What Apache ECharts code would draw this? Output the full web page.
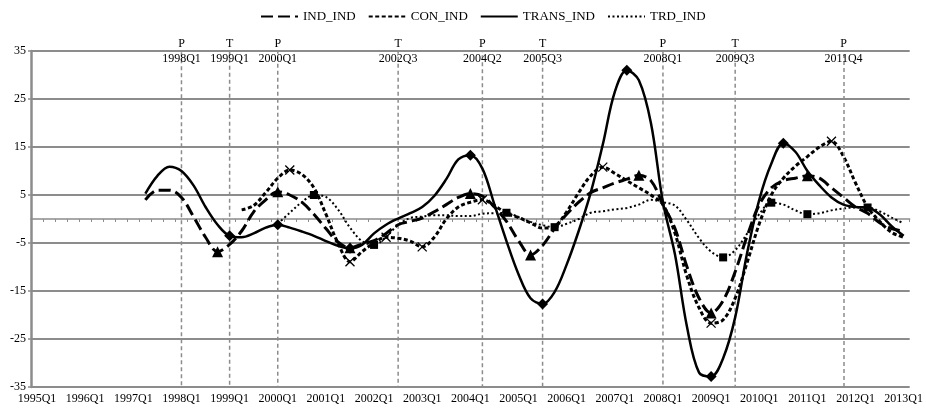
<!DOCTYPE html>
<html><head><meta charset="utf-8">
<script src="https://cdn.jsdelivr.net/npm/echarts@6/dist/echarts.min.js"></script>
<style>html,body{margin:0;padding:0;background:#fff}#c{width:926px;height:409px}</style>
</head><body><div id="c"></div>
<script>
// ---- categories (quarters 1995Q1 .. 2013Q1) ----
const firstYear = 1995, lastYear = 2013;
const categories = [];
for (let y = firstYear; y <= lastYear; y++) {
  for (let q = 1; q <= 4; q++) {
    if (y === lastYear && q > 1) break;
    categories.push(y + 'Q' + q);
  }
}

// ---- series values (null = no data) ----
const IND_IND = [null,null,null,null,null,null,null,null,null,
  4,6,6,4.5,0.5,-3.8,-6.8,-5.3,-2.5,1.5,4,5.7,5,3.5,1,-2,-4.8,-6,
  -5.2,-4.5,-3,-1.2,-0.5,0.2,1.5,3,4.5,5.3,
  4.8,2.5,-0.5,-4.5,-7.5,-5.5,-2,1,3.5,5.5,6.5,7.5,8.3,9.1,8,3,
  -2,-10,-16.5,-19.6,-17,-11,-3.5,3,6.5,8,8.5,9,8.5,6.5,4.5,2.5,1.2,-0.8,-2,-2.5];

const CON_IND = [null,null,null,null,null,null,null,null,null,null,null,null,null,null,null,null,null,
  1.9,2.8,5.5,8.5,10.2,9.3,6.5,1,-5,-8.9,
  -6.8,-5,-3.8,-4,-4.6,-5.8,-3.8,0,2.5,3.5,
  4,2.8,1.2,0.3,-0.8,-1.9,-1.5,1.5,5.5,9,10.8,9.5,8,6.5,5,3,
  -3,-12,-18.5,-21.7,-21,-16.5,-9,-1,5,8.5,11,13,15,16.2,13,7.5,2.5,-0.5,-2.8,-3.8];

const TRANS_IND = [null,null,null,null,null,null,null,null,null,
  5.3,9,10.9,10,7,2.5,-1.2,-3.5,-3.8,-3,-1.8,-1.2,-1.8,-2.6,-3.5,-4.6,-5.6,-6.1,
  -5.4,-3,-1.2,0.1,1.2,2.5,4.8,8.3,12.4,13.3,
  10.5,3,-4.6,-11.5,-16.5,-17.7,-15.2,-9.5,-2.5,5.5,15.5,26.5,31,28.9,20,3.5,
  -7.4,-22.5,-32,-32.8,-29,-20.5,-7,4,11.5,15.8,14,10,7,4.5,3,2.5,2.4,1,-1.5,-3.5];

const TRD_IND = [null,null,null,null,null,null,null,null,null,null,null,null,null,null,null,null,null,null,null,null,
  -1,1.3,3.5,5,4.6,2,-1.8,
  -4.6,-5.4,-3.7,-1.2,0.2,0.5,0.8,0.8,0.6,0.6,
  1.1,1.2,1.3,0.4,-0.6,-1.3,-1.7,-1,0,1.3,1.6,2,2.3,3,4,3.5,
  2.8,-0.3,-4,-6.8,-8,-6.5,-3,1,3.4,3,1.8,1,1.2,1.8,2.2,2.4,2.4,1.6,0.3,-0.9];

// ---- turning-point markers (data indices) ----
const IND_marks = [15,20,26,36,41,50,56,64];
const CON_marks = [21,26,29,32,37,47,56,66];
const TRANS_marks = [16,20,26,36,42,49,56,62];
const TRD_marks = [23,28,39,43,57,61,64,69];

// ---- reference cycle dates ----
const cycleDates = ['1998Q1','1999Q1','2000Q1','2002Q3','2004Q2','2005Q3','2008Q1','2009Q3','2011Q4'];
const cycleTypes = ['P','T','P','T','P','T','P','T','P'];

// ---- y axis ticks ----
const yMin = -35, yMax = 35, yStep = 10;

const FONT = 'Liberation Serif';
const GRID_C = '#8c8c8c';

const boxes = [], singles = [];
for (let i = 0; i < cycleDates.length; i += 2) {
  if (i + 1 < cycleDates.length) {
    boxes.push([{ xAxis: cycleDates[i], yAxis: yMax }, { xAxis: cycleDates[i + 1], yAxis: yMin }]);
  } else {
    singles.push([{ coord: [cycleDates[i], yMin] }, { coord: [cycleDates[i], yMax] }]);
  }
}
const cycleLabels = cycleDates.map((d, i) => ({ coord: [d, yMax], name: cycleTypes[i], value: d }));

function sizeFn(list, s) {
  return function (v, p) { return list.indexOf(p.dataIndex) >= 0 ? s : 0; };
}

const chart = echarts.init(document.getElementById('c'), null, { renderer: 'canvas' });
chart.setOption({
  animation: false,
  backgroundColor: '#fff',
  textStyle: { fontFamily: FONT },
  legend: {
    top: 5, left: 255,
    itemWidth: 37, itemHeight: 14, itemGap: 12,
    itemStyle: { opacity: 0 },
    textStyle: { fontFamily: FONT, fontSize: 13, color: '#000' },
    data: ['IND_IND', 'CON_IND', 'TRANS_IND', 'TRD_IND']
  },
  grid: { left: 31, right: 12, top: 51, bottom: 22, containLabel: false },
  xAxis: [{
    type: 'category', data: categories, boundaryGap: true, position: 'bottom',
    axisLine: { show: false, onZero: false },
    axisTick: { show: false },
    axisLabel: { interval: 3, fontFamily: FONT, fontSize: 12, color: '#000', margin: 6 },
    splitLine: { show: false }
  }, {
    type: 'category', data: categories, boundaryGap: true, position: 'bottom',
    axisLine: { show: true, onZero: true, lineStyle: { color: GRID_C, width: 1.5 } },
    axisTick: { show: true, interval: 0, length: 3, lineStyle: { color: GRID_C, width: 1 } },
    axisLabel: { show: false },
    splitLine: { show: false }
  }],
  yAxis: {
    type: 'value', min: yMin, max: yMax, interval: yStep,
    axisLine: { show: true, lineStyle: { color: GRID_C, width: 2.5 } },
    axisTick: { show: true, length: 3, lineStyle: { color: GRID_C, width: 1.5 } },
    axisLabel: { fontFamily: FONT, fontSize: 12, color: '#000', margin: 5 },
    splitLine: { show: true, lineStyle: { color: GRID_C, width: 2 } }
  },
  series: [{
    name: 'IND_IND', type: 'line', data: IND_IND, smooth: 0.35,
    symbol: 'triangle', symbolSize: sizeFn(IND_marks, 11), showSymbol: true, showAllSymbol: true,
    itemStyle: { color: '#000' },
    lineStyle: { color: '#000', width: 3, type: [12, 5] },
    z: 5,
    markArea: {
      silent: true,
      itemStyle: { color: 'rgba(0,0,0,0)', borderColor: GRID_C, borderWidth: 1.5, borderType: [4, 3] },
      label: { show: false },
      data: boxes
    },
    markLine: {
      silent: true, symbol: ['none', 'none'],
      lineStyle: { color: GRID_C, width: 1.5, type: [4, 3] },
      label: { show: false },
      data: singles
    },
    markPoint: {
      silent: true, symbol: 'rect', symbolSize: 1,
      itemStyle: { color: 'rgba(0,0,0,0)' },
      label: {
        show: true, position: 'inside', color: '#000',
        formatter: p => '{t|' + p.name + '}\n{d|' + p.value + '}',
        rich: {
          t: { fontFamily: FONT, fontSize: 12, lineHeight: 15, color: '#000' },
          d: { fontFamily: FONT, fontSize: 12, lineHeight: 15, color: '#000' }
        }
      },
      data: cycleLabels
    }
  }, {
    name: 'CON_IND', type: 'line', data: CON_IND, smooth: 0.35,
    symbol: 'path://M0,0L10,10M10,0L0,10', symbolSize: sizeFn(CON_marks, 9), showSymbol: true, showAllSymbol: true,
    itemStyle: { color: 'rgba(0,0,0,0)', borderColor: '#000', borderWidth: 1.3 },
    lineStyle: { color: '#000', width: 3, type: [4, 2.5] },
    z: 4
  }, {
    name: 'TRANS_IND', type: 'line', data: TRANS_IND, smooth: 0.35,
    symbol: 'diamond', symbolSize: sizeFn(TRANS_marks, 11), showSymbol: true, showAllSymbol: true,
    itemStyle: { color: '#000' },
    lineStyle: { color: '#000', width: 2.5, type: 'solid' },
    z: 6
  }, {
    name: 'TRD_IND', type: 'line', data: TRD_IND, smooth: 0.35,
    symbol: 'rect', symbolSize: sizeFn(TRD_marks, 8), showSymbol: true, showAllSymbol: true,
    itemStyle: { color: '#000' },
    lineStyle: { color: '#000', width: 2, type: [2, 2.5] },
    z: 3
  }]
});
</script>
</body></html>
